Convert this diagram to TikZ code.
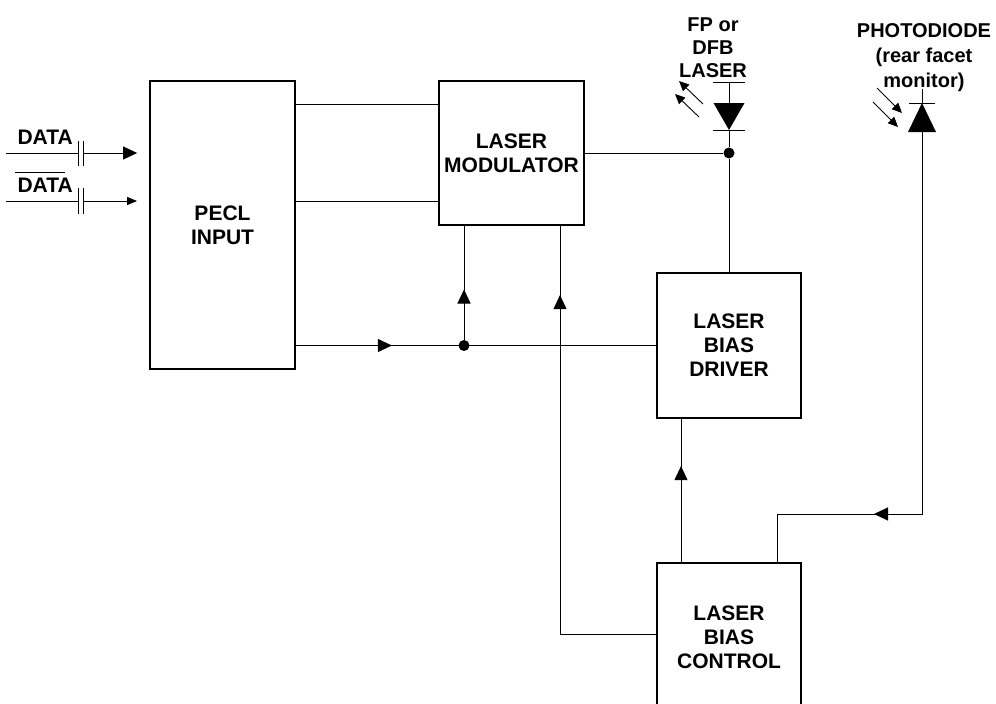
\documentclass[tikz,border=0pt]{standalone}
\usepackage{fontspec}
\setmainfont{Liberation Sans}
\usetikzlibrary{arrows.meta,decorations.markings}

\begin{document}
\begin{tikzpicture}[
		x=1pt, y=-1pt,
		line width=1pt,
		font=\fontsize{21}{24}\selectfont\bfseries,
		blk/.style={draw, line width=1.8pt, align=center, inner sep=0pt},
		lbl/.style={align=center, inner sep=0pt},
		fwd/.style={-{Triangle[length=14pt,width=13pt]}},
		midtip/.style={postaction={decorate}, decoration={markings,
			mark=at position #1 with {\arrow{Triangle[length=14pt,width=13pt]}}}},
		junc/.style={circle, fill, inner sep=0pt, minimum size=11pt},
		ray/.style={-{Triangle[length=10pt,width=9pt]}, line width=0.9pt},
		]
		\useasboundingbox (0,0) rectangle (996,704);
		\clip (0,0) rectangle (996,704);

		% blocks
		\node[blk, minimum width=145pt, minimum height=288pt] (pecl) at (222.5,225) {PECL\\INPUT};
		\node[blk, minimum width=145pt, minimum height=144pt] (mod) at (511.5,153) {LASER\\MODULATOR};
		\node[blk, minimum width=144pt, minimum height=145pt] (drv) at (729,345.5) {LASER\\BIAS\\DRIVER};
		\node[blk, minimum width=144pt, minimum height=148pt] (ctl) at (729,637) {LASER\\BIAS\\CONTROL};

		% data inputs
		\node[lbl, anchor=base west] (d1) at (17,144) {DATA};
		\node[lbl, anchor=base west] (d2) at (17,192) {DATA};
		\draw (15,172) -- (65,172);
		\coordinate (in1) at (6,153);
		\coordinate (in2) at (6,201);
		\draw (in1) -- (78,153) (78,141) -- (78,166) (83,141) -- (83,166);
		\draw [fwd] (83,153) -- ([xshift=-12pt]pecl.west |- in1);
		\draw (in2) -- (78,201) (78,188) -- (78,214) (83,188) -- (83,214);
		\draw [-{Triangle[length=10pt,width=8pt]}] (83,201) -- ([xshift=-12pt]pecl.west |- in2);

		% pecl to modulator
		\draw (pecl.east |- 0,104) -- (mod.west |- 0,104);
		\draw (pecl.east |- 0,201) -- (mod.west |- 0,201);

		% laser diode
		\node[lbl, anchor=north, font=\fontsize{20}{23}\selectfont\bfseries] (ldl) at (713,17) {FP or\\DFB\\LASER};
		\draw (713,82) -- (745,82) (729,82) -- (729,103) (713,130) -- (745,130);
		\fill (713.5,103) -- (744.5,103) -- (729,130) -- cycle;
		\coordinate (ldk) at (729,130);
		\draw [ray] (703,104) -- (679,81);
		\draw [ray] (699,117) -- (675,94);
		\node[junc] (j1) at (729,153) {};
		\draw (ldk) -- (j1);
		\draw (mod.east) -- (j1) -- (drv.north);

		% photodiode
		\node[lbl, anchor=north, font=\fontsize{20}{25}\selectfont\bfseries] (pdl) at (924,23) {PHOTODIODE\\(rear facet\\monitor)};
		\draw (922,89) -- (922,103) (909,103) -- (935,103);
		\fill (922,103) -- (936,132) -- (908,132) -- cycle;
		\coordinate (pda) at (922,132);
		\draw [ray] (877,88) -- (902,113);
		\draw [ray] (873,102) -- (898,127);
		\coordinate (bend) at (777,514);
		\draw [midtip=430pt] (pda) |- (bend) -- (bend |- ctl.north);

		% bias paths
		\node[junc] (j2) at (464,0 |- drv.west) {};
		\draw [midtip=96pt] (pecl.east |- drv.west) -- (drv.west);
		\draw [midtip=50pt] (j2) -- (j2 |- mod.south);
		\draw [midtip=435pt] ([yshift=3pt]ctl.west) -| ([xshift=48.5pt]mod.south);
		\draw [midtip=96pt] ([xshift=-48pt]ctl.north) -- ([xshift=-48pt]drv.south);
\end{tikzpicture}
\end{document}
